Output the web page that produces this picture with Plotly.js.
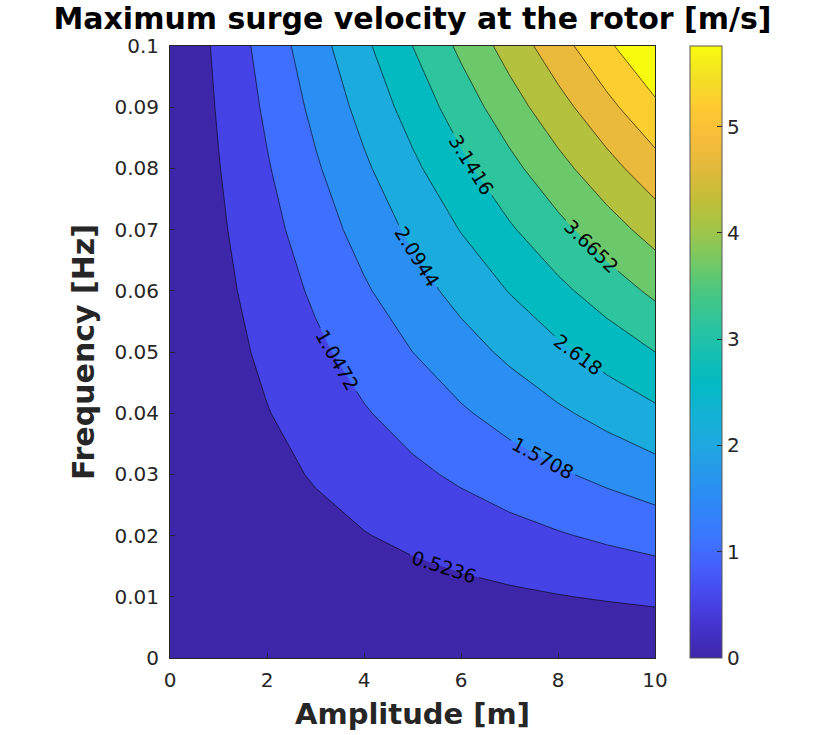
<!DOCTYPE html>
<html>
<head>
<meta charset="utf-8">
<script src="https://cdn.plot.ly/plotly-3.0.1.min.js"></script>
<style>html,body{margin:0;padding:0;background:#fff;}</style>
</head>
<body>
<div id="chart" style="width:813px;height:735px;"></div>
<script>
// Amplitude grid [m]
const amplitude = [0, 1, 2, 3, 4, 5, 6, 7, 8, 9, 10];
// Frequency grid [Hz]
const frequency = [0, 0.01, 0.02, 0.03, 0.04, 0.05, 0.06, 0.07, 0.08, 0.09, 0.1];
// Maximum surge velocity [m/s], rows = frequency, columns = amplitude
const velocity = [
  [0, 0, 0, 0, 0, 0, 0, 0, 0, 0, 0],
  [0, 0.0628, 0.1257, 0.1885, 0.2513, 0.3142, 0.3770, 0.4398, 0.5027, 0.5655, 0.6283],
  [0, 0.1257, 0.2513, 0.3770, 0.5027, 0.6283, 0.7540, 0.8796, 1.0053, 1.1310, 1.2566],
  [0, 0.1885, 0.3770, 0.5655, 0.7540, 0.9425, 1.1310, 1.3195, 1.5080, 1.6965, 1.8850],
  [0, 0.2513, 0.5027, 0.7540, 1.0053, 1.2566, 1.5080, 1.7593, 2.0106, 2.2619, 2.5133],
  [0, 0.3142, 0.6283, 0.9425, 1.2566, 1.5708, 1.8850, 2.1991, 2.5133, 2.8274, 3.1416],
  [0, 0.3770, 0.7540, 1.1310, 1.5080, 1.8850, 2.2619, 2.6389, 3.0159, 3.3929, 3.7699],
  [0, 0.4398, 0.8796, 1.3195, 1.7593, 2.1991, 2.6389, 3.0788, 3.5186, 3.9584, 4.3982],
  [0, 0.5027, 1.0053, 1.5080, 2.0106, 2.5133, 3.0159, 3.5186, 4.0212, 4.5239, 5.0265],
  [0, 0.5655, 1.1310, 1.6965, 2.2619, 2.8274, 3.3929, 3.9584, 4.5239, 5.0894, 5.6549],
  [0, 0.6283, 1.2566, 1.8850, 2.5133, 3.1416, 3.7699, 4.3982, 5.0265, 5.6549, 6.2832]
];
// Contour levels
const levelStart = 0.5236;
const levelEnd = 5.7596;
const levelStep = 0.5236;
const colorMax = 5.7596;
// Tick labels
const xTicks = [0, 2, 4, 6, 8, 10];
const yTicks = [0, 0.01, 0.02, 0.03, 0.04, 0.05, 0.06, 0.07, 0.08, 0.09, 0.1];
const yTickText = ['0', '0.01', '0.02', '0.03', '0.04', '0.05', '0.06', '0.07', '0.08', '0.09', '0.1'];
const cbTicks = [0, 1, 2, 3, 4, 5];

const parula = [
  [0.00, '#3E26A8'], [0.05, '#4433CD'], [0.10, '#4746EB'], [0.15, '#4560FB'],
  [0.20, '#3C78FF'], [0.25, '#2E87F7'], [0.30, '#2797EB'], [0.35, '#1FA8E0'],
  [0.40, '#12B2D4'], [0.45, '#02BAC3'], [0.50, '#16BFB0'], [0.55, '#2FC49C'],
  [0.60, '#4AC780'], [0.65, '#77C963'], [0.70, '#A1C548'], [0.75, '#C3BE38'],
  [0.80, '#E1B93B'], [0.85, '#F8BC3B'], [0.90, '#FECA32'], [0.95, '#F3E125'],
  [1.00, '#F9FB0E']
];

const font = 'DejaVu Sans, sans-serif';

const contour = {
  type: 'contour',
  x: amplitude,
  y: frequency,
  z: velocity,
  colorscale: parula,
  showscale: false,
  autocontour: false,
  contours: {
    start: levelStart, end: levelEnd, size: levelStep,
    coloring: 'fill',
    showlabels: true,
    labelformat: '.5~g',
    labelfont: {family: font, size: 19, color: '#000000'}
  },
  line: {color: '#000000', width: 0.6, smoothing: 0},
  hoverinfo: 'skip'
};

const bar = {
  type: 'scatter',
  mode: 'markers',
  x: [null], y: [null],
  showlegend: false,
  hoverinfo: 'skip',
  marker: {
    color: [0], cmin: 0, cmax: colorMax, colorscale: parula, showscale: true,
    colorbar: {
      x: 1.072, xanchor: 'left', xref: 'paper',
      y: 0.5, yanchor: 'middle', len: 1, lenmode: 'fraction',
      thickness: 32, thicknessmode: 'pixels',
      outlinecolor: '#5a5a5a', outlinewidth: 1,
      ticks: 'inside', ticklen: 5, tickcolor: '#262626',
      tickvals: cbTicks, ticktext: cbTicks.map(String),
      tickfont: {family: font, size: 20, color: '#262626'},
      xpad: 0, ypad: 0
    }
  }
};

const layout = {
  width: 813, height: 735,
  margin: {l: 170, r: 158, t: 46, b: 77, pad: 0},
  paper_bgcolor: '#ffffff', plot_bgcolor: '#ffffff',
  showlegend: false,
  title: {
    text: '<b>Maximum surge velocity at the rotor [m/s]</b>',
    font: {family: font, size: 30, color: '#000000'},
    x: 0.5, xref: 'paper', xanchor: 'center',
    y: 1 - 18/735, yref: 'container', yanchor: 'middle'
  },
  xaxis: {
    range: [0, 10], tickvals: xTicks, ticktext: xTicks.map(String),
    ticks: 'inside', ticklen: 5, tickcolor: '#262626',
    showline: true, linecolor: '#262626', linewidth: 1, mirror: true,
    showgrid: false, zeroline: false, ticklabelstandoff: 4,
    tickfont: {family: font, size: 20, color: '#262626'},
    title: {text: '<b>Amplitude [m]</b>', font: {family: font, size: 29, color: '#262626'}, standoff: 12}
  },
  yaxis: {
    range: [0, 0.1], tickvals: yTicks, ticktext: yTickText,
    ticks: 'inside', ticklen: 5, tickcolor: '#262626',
    showline: true, linecolor: '#262626', linewidth: 1, mirror: true,
    showgrid: false, zeroline: false, ticklabelstandoff: 6,
    tickfont: {family: font, size: 20, color: '#262626'},
    title: {text: '<b>Frequency [Hz]</b>', font: {family: font, size: 30, color: '#262626'}, standoff: 10}
  }
};

Plotly.newPlot('chart', [contour, bar], layout, {displayModeBar: false, staticPlot: true});
</script>
</body>
</html>
